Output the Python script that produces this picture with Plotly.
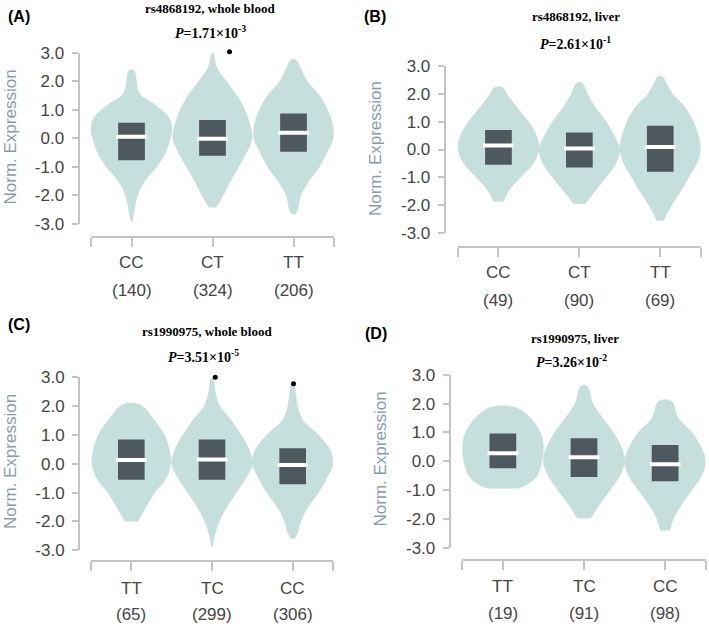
import plotly.graph_objects as go

# ---- data ----
# (A) rs4868192, whole blood
a_geno = ["CC", "CT", "TT"]
a_n = [140, 324, 206]
a_q1 = [-0.77, -0.61, -0.47]
a_med = [0.06, -0.01, 0.20]
a_q3 = [0.55, 0.64, 0.87]
a_lev = [
    [-2.9, -2.5, -2.0, -1.5, -1.0, -0.5, 0.0, 0.3, 0.55, 0.78, 1.0, 1.24, 1.47, 1.75, 2.05, 2.38],
    [-2.42, -2.2, -2.0, -1.5, -1.0, -0.5, 0.0, 0.5, 1.0, 1.5, 2.0, 2.5, 2.97],
    [-2.66, -2.5, -2.0, -1.5, -1.0, -0.5, 0.0, 0.5, 1.0, 1.5, 2.0, 2.5, 2.75],
]
a_hw = [
    [0.01, 0.035, 0.075, 0.16, 0.31, 0.42, 0.48, 0.5, 0.49, 0.45, 0.37, 0.26, 0.13, 0.075, 0.06, 0.03],
    [0.04, 0.09, 0.13, 0.22, 0.32, 0.42, 0.49, 0.46, 0.40, 0.30, 0.17, 0.05, 0.01],
    [0.02, 0.05, 0.09, 0.19, 0.32, 0.41, 0.49, 0.48, 0.42, 0.32, 0.17, 0.08, 0.03],
]
a_out_x = [1.21]
a_out_y = [3.03]
a_p = "1.71×10<sup>-3</sup>"

# (B) rs4868192, liver
b_geno = ["CC", "CT", "TT"]
b_n = [49, 90, 69]
b_q1 = [-0.55, -0.64, -0.80]
b_med = [0.14, 0.04, 0.09]
b_q3 = [0.70, 0.61, 0.85]
b_lev = [
    [-1.87, -1.5, -1.0, -0.5, 0.0, 0.5, 1.0, 1.5, 2.0, 2.22],
    [-1.95, -1.5, -1.0, -0.5, 0.0, 0.5, 1.0, 1.5, 2.0, 2.39],
    [-2.55, -2.0, -1.5, -1.0, -0.5, 0.0, 0.5, 1.0, 1.5, 2.0, 2.4, 2.6],
]
b_hw = [
    [0.06, 0.12, 0.27, 0.43, 0.5, 0.47, 0.37, 0.23, 0.10, 0.05],
    [0.07, 0.19, 0.33, 0.45, 0.5, 0.43, 0.33, 0.20, 0.10, 0.03],
    [0.04, 0.14, 0.25, 0.35, 0.45, 0.5, 0.47, 0.41, 0.31, 0.15, 0.07, 0.03],
]
b_out_x = []
b_out_y = []
b_p = "2.61×10<sup>-1</sup>"

# (C) rs1990975, whole blood
c_geno = ["TT", "TC", "CC"]
c_n = [65, 299, 306]
c_q1 = [-0.55, -0.55, -0.71]
c_med = [0.13, 0.15, -0.04]
c_q3 = [0.84, 0.84, 0.54]
c_lev = [
    [-2.0, -1.8, -1.5, -1.0, -0.5, 0.0, 0.5, 1.0, 1.5, 2.05],
    [-2.86, -2.5, -2.0, -1.5, -1.0, -0.5, 0.0, 0.5, 1.0, 1.5, 2.0, 2.5, 2.94],
    [-2.6, -2.4, -2.0, -1.5, -1.0, -0.5, 0.0, 0.5, 1.0, 1.5, 2.0, 2.5, 2.78],
]
c_hw = [
    [0.08, 0.12, 0.18, 0.29, 0.43, 0.49, 0.47, 0.41, 0.29, 0.11],
    [0.01, 0.03, 0.09, 0.18, 0.30, 0.42, 0.5, 0.46, 0.36, 0.24, 0.10, 0.04, 0.015],
    [0.02, 0.06, 0.10, 0.19, 0.32, 0.42, 0.5, 0.46, 0.32, 0.13, 0.06, 0.035, 0.01],
]
c_out_x = [1.04, 2.01]
c_out_y = [3.0, 2.78]
c_p = "3.51×10<sup>-5</sup>"

# (D) rs1990975, liver
d_geno = ["TT", "TC", "CC"]
d_n = [19, 91, 98]
d_q1 = [-0.24, -0.54, -0.69]
d_med = [0.28, 0.14, -0.10]
d_q3 = [0.96, 0.80, 0.57]
d_lev = [
    [-0.94, -0.8, -0.5, 0.0, 0.5, 1.0, 1.5, 1.87],
    [-1.98, -1.8, -1.5, -1.0, -0.5, 0.0, 0.5, 1.0, 1.5, 2.0, 2.5, 2.62],
    [-2.39, -2.0, -1.5, -1.0, -0.5, 0.0, 0.5, 1.0, 1.5, 2.08],
]
d_hw = [
    [0.18, 0.30, 0.42, 0.48, 0.5, 0.46, 0.34, 0.15],
    [0.08, 0.12, 0.19, 0.32, 0.44, 0.5, 0.46, 0.36, 0.23, 0.11, 0.06, 0.03],
    [0.06, 0.10, 0.20, 0.33, 0.45, 0.5, 0.44, 0.33, 0.16, 0.08],
]
d_out_x = []
d_out_y = []
d_p = "3.26×10<sup>-2</sup>"

titles = ["rs4868192, whole blood", "rs4868192, liver",
          "rs1990975, whole blood", "rs1990975, liver"]
letters = ["(A)", "(B)", "(C)", "(D)"]
y_ticks = [-3, -2, -1, 0, 1, 2, 3]
y_ticktext = ["-3.0", "-2.0", "-1.0", "0.0", "1.0", "2.0", "3.0"]

panels = [
    dict(geno=a_geno, n=a_n, q1=a_q1, med=a_med, q3=a_q3, lev=a_lev, hw=a_hw, ox=a_out_x, oy=a_out_y, p=a_p),
    dict(geno=b_geno, n=b_n, q1=b_q1, med=b_med, q3=b_q3, lev=b_lev, hw=b_hw, ox=b_out_x, oy=b_out_y, p=b_p),
    dict(geno=c_geno, n=c_n, q1=c_q1, med=c_med, q3=c_q3, lev=c_lev, hw=c_hw, ox=c_out_x, oy=c_out_y, p=c_p),
    dict(geno=d_geno, n=d_n, q1=d_q1, med=d_med, q3=d_q3, lev=d_lev, hw=d_hw, ox=d_out_x, oy=d_out_y, p=d_p),
]

# ---- layout geometry (pixels in the 709x627 page) ----
W, H = 709, 627
geom = [
    dict(yax=78.5, ytop=52.7, ybot=224.0, bry=237.0, brl=91.0, brr=334.0,
         title=(210, 8), pv=(210, 32), letter=(18.5, 16.5), ytitle=(10, 137.5), lab=262.7, cnt=290.0),
    dict(yax=444.7, ytop=65.7, ybot=233.3, bry=246.7, brl=458.0, brr=700.7,
         title=(575.7, 16.7), pv=(575.7, 43.3), letter=(375.5, 17.0), ytitle=(374.8, 148.3), lab=273.0, cnt=300.0),
    dict(yax=79.0, ytop=377.3, ybot=550.3, bry=561.3, brl=91.0, brr=333.0,
         title=(206.7, 332), pv=(203.3, 356.3), letter=(18.5, 324.7), ytitle=(10, 462), lab=588.0, cnt=614.7),
    dict(yax=449.7, ytop=374.7, ybot=548.0, bry=559.7, brl=462.3, brr=705.7,
         title=(574.7, 338), pv=(571.3, 361.3), letter=(376.5, 333.7), ytitle=(380.7, 458.8), lab=586.3, cnt=613.0),
]

VIOLIN = "#c5dfdd"
BOX = "#4d585f"
AXIS = "#c4c4c4"
TXT = "#454545"
YTITLE = "#8a9bb0"
SANS = "Liberation Sans, Arial, sans-serif"
SERIF = "Liberation Serif, Times New Roman, serif"
BOX_W = 0.33
EXTRA = 0.3  # headroom (data units) of the outlier layer above 3.0


def fx(v):
    return v / W


def fy(v):
    return 1 - v / H


fig = go.Figure()
annotations = []
layout = {}

for k, (p, g) in enumerate(zip(panels, geom)):
    sfx = "" if k == 0 else str(k + 1)
    xa, ya = "x" + sfx, "y" + sfx

    # violins
    for i in range(3):
        lev, hw = p["lev"][i], p["hw"][i]
        xs = [i + w for w in hw] + [i - w for w in hw[::-1]]
        ys = lev + lev[::-1]
        fig.add_trace(go.Scatter(
            x=xs, y=ys, xaxis=xa, yaxis=ya, mode="lines", fill="toself",
            fillcolor=VIOLIN, line=dict(color=VIOLIN, width=0.5, shape="spline", smoothing=1),
            hoverinfo="skip", showlegend=False))

    # interquartile boxes
    for i in range(3):
        lo, hi = p["q1"][i], p["q3"][i]
        fig.add_trace(go.Scatter(
            x=[i - BOX_W / 2, i + BOX_W / 2, i + BOX_W / 2, i - BOX_W / 2, i - BOX_W / 2],
            y=[lo, lo, hi, hi, lo], xaxis=xa, yaxis=ya, mode="lines", fill="toself",
            fillcolor=BOX, line=dict(color=BOX, width=0), hoverinfo="skip", showlegend=False))

    # medians
    fig.add_trace(go.Scatter(
        x=[0, 1, 2], y=p["med"], mode="markers", xaxis=xa, yaxis=ya,
        marker=dict(symbol="line-ew", size=22, line=dict(color="white", width=4)),
        showlegend=False))

    ppu = (g["ybot"] - g["ytop"]) / 6.0
    layout["xaxis" + sfx] = dict(
        domain=[fx(g["brl"]), fx(g["brr"])], range=[-0.5, 2.5],
        anchor="free", position=fy(g["bry"]), automargin=False,
        showline=True, linecolor=AXIS, linewidth=2,
        ticks="outside", ticklen=9, tickwidth=2, tickcolor=AXIS,
        tickvals=[-0.5, 0, 1, 2, 2.5], showticklabels=False,
        showgrid=False, zeroline=False, fixedrange=True)
    layout["yaxis" + sfx] = dict(
        domain=[fy(g["ybot"]), fy(g["ytop"])], range=[-3, 3],
        anchor="free", position=fx(g["yax"]), automargin=False,
        showline=True, linecolor=AXIS, linewidth=2,
        ticks="outside", ticklen=6, tickwidth=2, tickcolor=AXIS,
        tickvals=y_ticks, ticktext=y_ticktext, ticklabelstandoff=4,
        tickfont=dict(family=SANS, size=17, color=TXT),
        showgrid=False, zeroline=False, fixedrange=True)

    # outlier layer: same scale, a little headroom above 3.0
    osfx = str(k + 5)
    layout["xaxis" + osfx] = dict(
        domain=[fx(g["brl"]), fx(g["brr"])], range=[-0.5, 2.5], anchor="y" + osfx,
        visible=False, automargin=False, fixedrange=True)
    layout["yaxis" + osfx] = dict(
        domain=[fy(g["ybot"]), fy(g["ytop"] - EXTRA * ppu)], range=[-3, 3 + EXTRA],
        anchor="x" + osfx, visible=False, automargin=False, fixedrange=True)
    if p["ox"]:
        fig.add_trace(go.Scatter(
            x=p["ox"], y=p["oy"], mode="markers", xaxis="x" + osfx, yaxis="y" + osfx,
            marker=dict(color="black", size=5), hoverinfo="skip", showlegend=False))

    for i in range(3):
        annotations.append(dict(
            x=i, y=fy(g["lab"]), xref=xa, yref="paper", text=p["geno"][i],
            showarrow=False, xanchor="center", yanchor="middle",
            font=dict(family=SANS, size=17, color=TXT)))
        annotations.append(dict(
            x=i, y=fy(g["cnt"]), xref=xa, yref="paper", text="(%d)" % p["n"][i],
            showarrow=False, xanchor="center", yanchor="middle",
            font=dict(family=SANS, size=17, color=TXT)))

    annotations.append(dict(
        x=fx(g["title"][0]), y=fy(g["title"][1]), xref="paper", yref="paper",
        text="<b>%s</b>" % titles[k], showarrow=False, xanchor="center", yanchor="middle",
        font=dict(family=SERIF, size=13, color="black")))
    annotations.append(dict(
        x=fx(g["pv"][0]), y=fy(g["pv"][1]), xref="paper", yref="paper",
        text="<b><i>P</i>=%s</b>" % p["p"], showarrow=False, xanchor="center", yanchor="middle",
        font=dict(family=SERIF, size=14, color="black")))
    annotations.append(dict(
        x=fx(g["letter"][0]), y=fy(g["letter"][1]), xref="paper", yref="paper",
        text="<b>%s</b>" % letters[k], showarrow=False, xanchor="center", yanchor="middle",
        font=dict(family=SANS, size=16, color="black")))
    annotations.append(dict(
        x=fx(g["ytitle"][0]), y=fy(g["ytitle"][1]), xref="paper", yref="paper",
        text="Norm. Expression", textangle=-90, showarrow=False,
        xanchor="center", yanchor="middle",
        font=dict(family=SANS, size=17, color=YTITLE)))

fig.update_layout(
    width=W, height=H, margin=dict(l=0, r=0, t=0, b=0, pad=0, autoexpand=False),
    paper_bgcolor="white", plot_bgcolor="rgba(0,0,0,0)",
    hovermode=False, annotations=annotations, **layout)

fig.write_html(
    "out.html",
    config={"displayModeBar": False, "staticPlot": True},
    post_script="document.body.style.margin='0';"
                "document.body.style.overflow='hidden';"
                "document.documentElement.style.overflow='hidden';",
)
